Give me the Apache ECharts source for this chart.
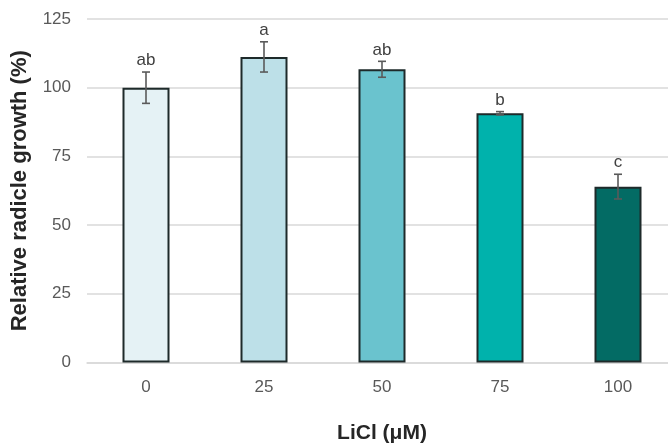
<!DOCTYPE html>
<html>
<head>
<meta charset="utf-8">
<script src="https://cdn.jsdelivr.net/npm/echarts@6/dist/echarts.min.js"></script>
<style>html,body{margin:0;padding:0;background:#fff;}#c{width:668px;height:444px;}</style>
</head>
<body>
<div id="c"></div>
<script>
const categories = ['0', '25', '50', '75', '100'];
const values = [100.0, 111.2, 106.7, 90.7, 64.0];
const errors = [5.7, 5.5, 2.9, 0.6, 4.5];
const letters = ['ab', 'a', 'ab', 'b', 'c'];
const colors = ['#E5F2F5', '#BDE0E8', '#6AC3CE', '#00B2AC', '#036B64'];
const yTicks = [0, 25, 50, 75, 100, 125];

const chart = echarts.init(document.getElementById('c'), null, {renderer: 'canvas'});
const font = 'Liberation Sans, Arial, sans-serif';

chart.setOption({
  animation: false,
  backgroundColor: '#ffffff',
  grid: {left: 87, top: 19, width: 590, height: 343.5, containLabel: false, outerBoundsMode: 'none'},
  xAxis: {
    type: 'category',
    data: categories,
    axisLine: {show: true, lineStyle: {color: '#d9d9d9', width: 1.5}},
    axisTick: {show: false},
    axisLabel: {color: '#595959', fontSize: 17, fontFamily: font, margin: 16},
    name: 'LiCl (\u03bcM)',
    nameLocation: 'middle',
    nameGap: 60,
    nameTextStyle: {color: '#262626', fontSize: 21, fontWeight: 'bold', fontFamily: font}
  },
  yAxis: {
    type: 'value',
    min: yTicks[0],
    max: yTicks[yTicks.length - 1],
    interval: 25,
    axisLine: {show: false},
    axisTick: {show: false},
    splitLine: {lineStyle: {color: '#d9d9d9', width: 1.5}},
    axisLabel: {color: '#595959', fontSize: 17, fontFamily: font, margin: 16},
    name: 'Relative radicle growth (%)',
    nameLocation: 'middle',
    nameGap: 56,
    nameTextStyle: {color: '#262626', fontSize: 22, fontWeight: 'bold', fontFamily: font}
  },
  series: [
    {
      type: 'bar',
      barWidth: 47,
      data: values.map((v, i) => ({
        value: v,
        itemStyle: {color: colors[i], borderColor: '#1e2a2a', borderWidth: 2}
      })),
      z: 2
    },
    {
      type: 'custom',
      z: 5,
      data: values.map((v, i) => [i, v, errors[i], letters[i]]),
      renderItem: function (params, api) {
        const i = api.value(0);
        const v = api.value(1);
        const e = api.value(2);
        const top = api.coord([i, v + e]);
        const bot = api.coord([i, v - e]);
        const x = top[0];
        const cap = 4;
        const style = {stroke: '#5a5a5a', lineWidth: 1.6};
        return {
          type: 'group',
          children: [
            {type: 'line', shape: {x1: x, y1: top[1], x2: x, y2: bot[1]}, style: style},
            {type: 'line', shape: {x1: x - cap, y1: top[1], x2: x + cap, y2: top[1]}, style: style},
            {type: 'line', shape: {x1: x - cap, y1: bot[1], x2: x + cap, y2: bot[1]}, style: style},
            {type: 'text', style: {
              text: letters[params.dataIndex],
              x: x, y: top[1] - 3,
              align: 'center', verticalAlign: 'bottom',
              fill: '#404040', fontSize: 17, fontFamily: font
            }}
          ]
        };
      }
    }
  ]
});
</script>
</body>
</html>
